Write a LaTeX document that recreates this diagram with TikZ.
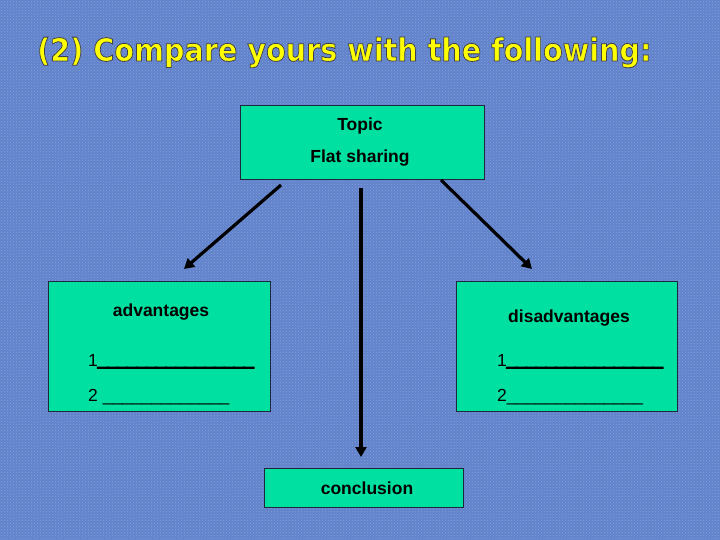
\documentclass[tikz,border=0pt]{standalone}
\usepackage{fontspec}
\setmainfont{Liberation Sans}
\newfontfamily\titlefont{DejaVu Sans}
\usetikzlibrary{arrows.meta,patterns}
\definecolor{bgblue}{RGB}{98,130,202}
\definecolor{bgspeck}{RGB}{128,160,224}
\definecolor{boxgreen}{RGB}{0,224,160}
\definecolor{titleyellow}{RGB}{255,255,0}
\definecolor{edgedark}{RGB}{30,40,60}
\newcommand{\outlinedtext}[1]{\special{pdf:literal direct 2 Tr 0.8 w 0.25 0.25 0.30 RG}#1\special{pdf:literal direct 0 Tr}}
\newcommand{\heavytext}[1]{\special{pdf:literal direct 2 Tr 1.6 w 0 0 0 RG}#1\special{pdf:literal direct 0 Tr}}
\tikzset{
  panel/.style={draw=edgedark, line width=0.9pt, fill=boxgreen, inner sep=0pt},
  lbl/.style={font=\fontsize{17.5}{20}\selectfont\bfseries, text=black, inner sep=0pt},
  blank/.style={font=\fontsize{17.5}{20}\selectfont, text=black, inner sep=0pt, anchor=base west},
  link/.style={line width=3.2pt, draw=black, -{Triangle[length=10pt,width=11pt]}}
}
\begin{document}
\begin{tikzpicture}[x=1pt,y=-1pt]
\useasboundingbox (0,0) rectangle (720,540);
\fill[bgblue] (0,0) rectangle (720,540);
\fill[pattern=crosshatch dots, pattern color=bgspeck] (0,0) rectangle (720,540);
% title
\node[anchor=base west, inner sep=0pt, text=titleyellow, font=\titlefont\fontsize{31.5}{34}\selectfont\bfseries] (title) at (37,61) {\scalebox{0.91}[1]{\outlinedtext{(2) Compare yours with the following:}}};
% boxes
\node[panel, minimum width=244pt, minimum height=74pt] (topic) at (362,142) {};
\node[lbl] (topictxt) at (360,126) {Topic};
\node[lbl] (flattxt) at (360,158) {Flat sharing};
\node[panel, minimum width=222pt, minimum height=130pt] (adv) at (159,346) {};
\node[lbl] (advtxt) at (161,312) {advantages};
\node[blank] (adv1) at (88,366) {1\heavytext{\textbf{\_\_\_\_\_\_\_\_\_\_\_\_\_\_\_\_}}};
\node[blank] (adv2) at (88,401) {2 \_\_\_\_\_\_\_\_\_\_\_\_\_};
\node[panel, minimum width=221pt, minimum height=130pt] (dis) at (566.5,346) {};
\node[lbl] (distxt) at (569,318) {disadvantages};
\node[blank] (dis1) at (497,366) {1\heavytext{\textbf{\_\_\_\_\_\_\_\_\_\_\_\_\_\_\_\_}}};
\node[blank] (dis2) at (497,401) {2\_\_\_\_\_\_\_\_\_\_\_\_\_\_};
\node[panel, minimum width=199pt, minimum height=39pt] (concl) at (363.5,487.5) {};
\node[lbl] (concltxt) at (367,488) {conclusion};
% arrows
\coordinate (a1s) at (281,185);
\coordinate (a1e) at (184,269);
\coordinate (a2s) at (441,180);
\coordinate (a2e) at (532,269);
\coordinate (a3s) at (361,188);
\coordinate (a3e) at (361,457);
\draw[link] (a1s) -- (a1e);
\draw[link] (a2s) -- (a2e);
\draw[link] (a3s) -- (a3e);
\end{tikzpicture}
\end{document}
